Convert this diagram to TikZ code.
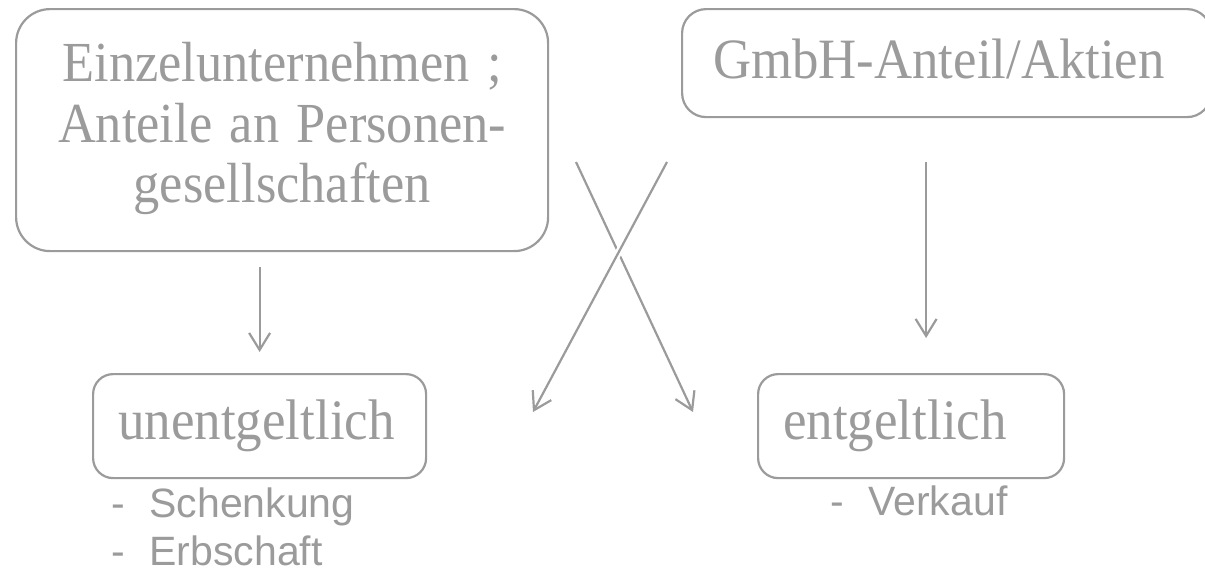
\documentclass[tikz,border=0pt]{standalone}
\usepackage{fontspec}
\setmainfont{Liberation Serif}
\setsansfont{Liberation Sans}
\usetikzlibrary{arrows.meta}
\definecolor{ink}{RGB}{155,155,155}
% slightly tall lettering for the box labels
\newcommand{\tallish}[1]{\scalebox{1}[1.08]{#1}}
\begin{document}
\begin{tikzpicture}[x=1pt,y=-1pt,
  box/.style={draw=ink, line width=1.1pt, rounded corners=#1, anchor=north west,
    inner ysep=0pt, align=left, text=ink},
  conn/.style={draw=ink, line width=1.1pt, -{Straight Barb[length=8.5pt,width=10.5pt]}},
  item/.style={anchor=base west, text=ink, inner sep=0pt,
    font=\sffamily\fontsize{20.5}{24}\selectfont}]
\useasboundingbox (0,0) rectangle (602.5,287);

% source boxes
\node[box=17pt, minimum height=121pt, inner xsep=21pt, text width=224pt,
  font=\fontsize{26.2}{28}\selectfont] (einzel) at (7.5,4)
  {\tallish{\begin{tabular}{@{}c@{}}Einzelunternehmen ;\\Anteile an Personen-\\gesellschaften\end{tabular}}};
\node[box=12pt, minimum height=54pt, inner xsep=15.5pt, text width=233.5pt,
  text depth=4pt, font=\fontsize{26.4}{30}\selectfont] (gmbh) at (340.5,4)
  {\tallish{GmbH-Anteil/Aktien}};

% target boxes
\node[box=10pt, minimum height=52pt, inner xsep=12.5pt, text width=141.5pt,
  font=\fontsize{26.5}{30}\selectfont] (unent) at (46,186.5) {\tallish{unentgeltlich}};
\node[box=10pt, minimum height=52pt, inner xsep=12.5pt, text width=128pt,
  font=\fontsize{26.5}{30}\selectfont] (entg) at (378.5,186.5) {\tallish{entgeltlich}};

% examples below the target boxes
\node[item] (schenk) at (55.5,258.5) {-\hspace{12.2pt}Schenkung};
\node[item] (erb) at (55.5,282.5) {-\hspace{12.2pt}Erbschaft};
\node[item] (verk) at (415,257.5) {-\hspace{12.2pt}Verkauf};

% straight transitions
\draw[conn, shorten <=7.5pt, shorten >=10.5pt] (einzel.south -| unent.north) -- (unent.north);
\draw[conn, shorten <=22pt, shorten >=17.5pt]
  ([xshift=7.5pt]entg.north |- gmbh.south) -- ([xshift=7.5pt]entg.north);

% crossing transitions
\coordinate (xa) at (288,81);
\coordinate (xb) at (346.5,206);
\coordinate (ya) at (333.5,81);
\coordinate (yb) at (266.5,206);
\draw[conn] (xa) -- (xb);
\draw[conn, preaction={draw=white, line width=3.5pt, arrows=-}] (ya) -- (yb);
\end{tikzpicture}
\end{document}
